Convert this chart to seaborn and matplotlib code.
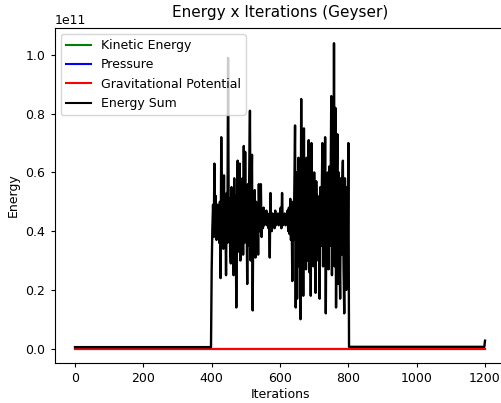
import numpy as np
import pandas as pd
import matplotlib
matplotlib.use("Agg")
import matplotlib.pyplot as plt
import seaborn as sns

SCALE = 1e11

# Energy sum during the eruption phase (iterations 400..800, every 2 steps), in units of 1e11
eruption_sum = [
    0.27, 0.41, 0.49, 0.38, 0.63, 0.40, 0.52, 0.37, 0.49, 0.41,
    0.47, 0.36, 0.50, 0.24, 0.72, 0.39, 0.50, 0.34, 0.59, 0.37,
    0.48, 0.25, 0.53, 0.36, 0.99, 0.38, 0.51, 0.34, 0.29, 0.55,
    0.33, 0.54, 0.25, 0.58, 0.35, 0.52, 0.14, 0.47, 0.64, 0.33,
    0.55, 0.63, 0.30, 0.52, 0.38, 0.58, 0.32, 0.69, 0.36, 0.67,
    0.40, 0.50, 0.22, 0.56, 0.35, 0.61, 0.81, 0.30, 0.52, 0.66,
    0.13, 0.50, 0.40, 0.54, 0.31, 0.50, 0.38, 0.49, 0.32, 0.56,
    0.40, 0.47, 0.56, 0.38, 0.46, 0.41, 0.48, 0.42, 0.45, 0.43,
    0.47, 0.42, 0.46, 0.41, 0.45, 0.31, 0.53, 0.42, 0.40, 0.46,
    0.43, 0.45, 0.41, 0.47, 0.42, 0.44, 0.43, 0.46, 0.42, 0.45,
    0.43, 0.48, 0.41, 0.53, 0.42, 0.45, 0.43, 0.46, 0.42, 0.45,
    0.44, 0.47, 0.40, 0.48, 0.39, 0.51, 0.37, 0.46, 0.23, 0.50,
    0.37, 0.55, 0.76, 0.14, 0.60, 0.17, 0.52, 0.65, 0.28, 0.58,
    0.10, 0.85, 0.30, 0.62, 0.18, 0.75, 0.33, 0.56, 0.27, 0.65,
    0.30, 0.55, 0.71, 0.26, 0.58, 0.18, 0.70, 0.32, 0.55, 0.28,
    0.60, 0.35, 0.19, 0.57, 0.38, 0.52, 0.30, 0.49, 0.17, 0.55,
    0.35, 0.50, 0.70, 0.28, 0.58, 0.30, 0.72, 0.12, 0.55, 0.33,
    0.60, 0.27, 0.62, 0.35, 0.53, 0.86, 0.25, 0.61, 0.30, 1.04,
    0.28, 0.82, 0.14, 0.55, 0.73, 0.22, 0.60, 0.33, 0.17, 0.58,
    0.32, 0.55, 0.64, 0.28, 0.12, 0.58, 0.35, 0.20, 0.55, 0.30,
    0.70,
]
eruption_iters = list(range(400, 801, 2))

# Quiet phases before and after the eruption
before_iters = [0, 398]
before_sum = [0.005, 0.005]
after_iters = [802, 1198, 1200]
after_sum = [0.006, 0.006, 0.027]

iterations = np.array(before_iters + eruption_iters + after_iters)
energy_sum = np.array(before_sum + eruption_sum + after_sum) * SCALE

# Individual components stay near zero on this scale
kinetic = np.zeros(len(iterations))
pressure = np.zeros(len(iterations))
gravitational = np.zeros(len(iterations))

df = pd.DataFrame({
    "Iterations": iterations,
    "Kinetic Energy": kinetic,
    "Pressure": pressure,
    "Gravitational Potential": gravitational,
    "Energy Sum": energy_sum,
})

plt.rcParams.update({
    "font.size": 9,
    "axes.titlesize": 11,
    "xtick.major.size": 3.2,
    "ytick.major.size": 3.2,
})

fig = plt.figure(figsize=(5.02, 4.03), dpi=100)
ax = fig.add_axes([0.1086, 0.0993, 0.8984, 0.8313])

series = [
    ("Kinetic Energy", "green", 1.5),
    ("Pressure", "blue", 1.5),
    ("Gravitational Potential", "red", 1.5),
    ("Energy Sum", "black", 1.7),
]
for name, color, lw in series:
    sns.lineplot(data=df, x="Iterations", y=name, color=color, label=name,
                 linewidth=lw, ax=ax)

ax.set_xlim(-60, 1260)
ax.set_ylim(-0.049 * SCALE, 1.092 * SCALE)
ax.set_xticks([0, 200, 400, 600, 800, 1000, 1200])
ax.set_yticks(np.array([0.0, 0.2, 0.4, 0.6, 0.8, 1.0]) * SCALE)
ax.set_xlabel("Iterations", labelpad=2)
ax.set_ylabel("Energy")
ax.set_title("Energy x Iterations (Geyser)", pad=8)
leg = ax.legend(loc="upper left")
for line in leg.get_lines():
    line.set_linewidth(1.5)

fig.savefig("out.png", dpi=100)
